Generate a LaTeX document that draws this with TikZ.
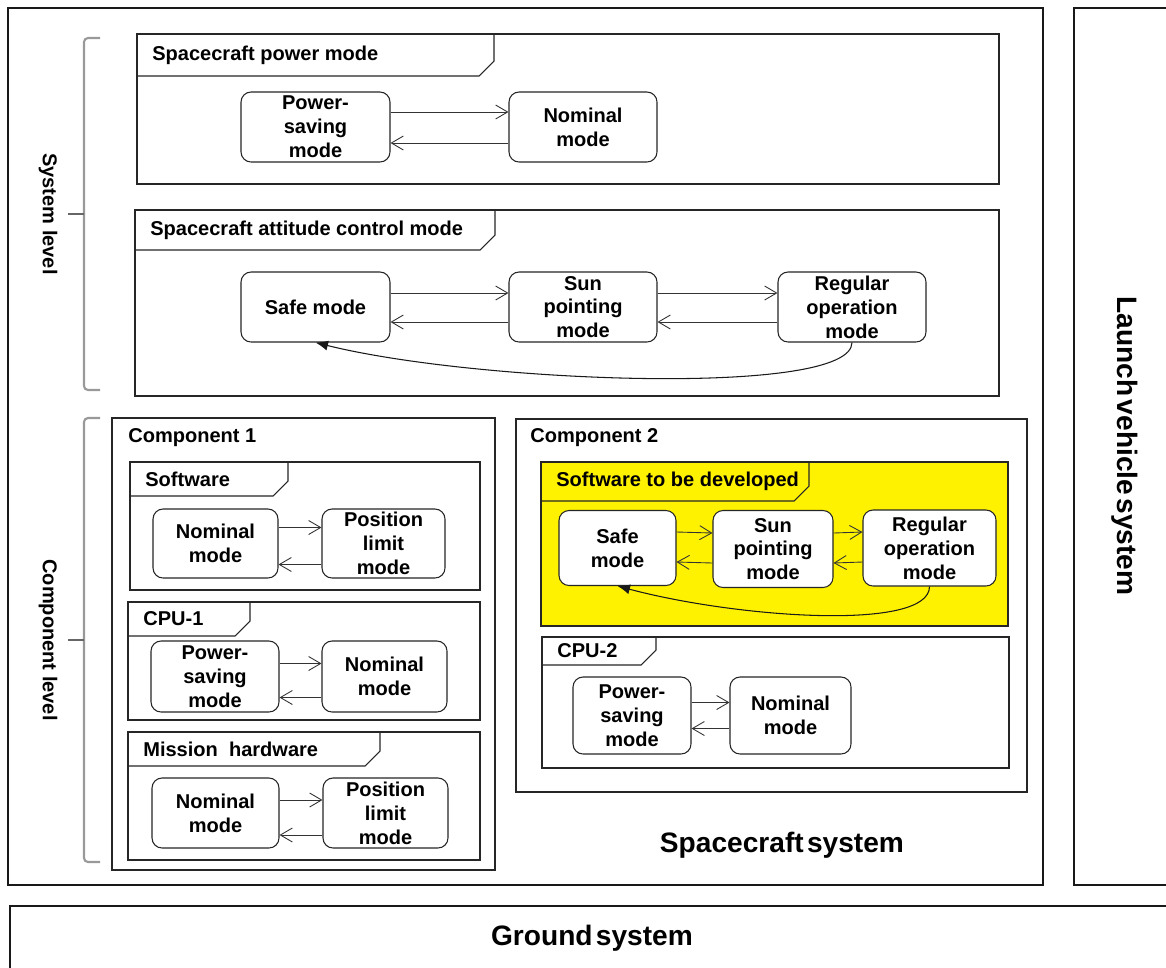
\documentclass[tikz,border=0pt]{standalone}
\usepackage{fontspec}
\setmainfont{Liberation Sans}
\usetikzlibrary{arrows.meta,calc}

% frame with a label tab: name, x1, y1, x2, y2, tab right, tab bottom, label
\newcommand{\tabframe}[8]{%
  \draw[frame] (#2,#3) rectangle (#4,#5);
  \draw[frame] (#2,#7) -- ({#6-15},#7) -- (#6,{#7-15}) -- (#6,#3);
  \node[framelabel] (#1) at ({#2+15},{(#3+#7)/2}) {#8};
}
% two opposite transitions between two modes
\newcommand{\modeswitch}[4]{%
  \draw[trans] ($(#1.east)+(0,#3)$) -- ($(#2.west)+(0,#3)$);
  \draw[trans] ($(#2.west)+(0,#4)$) -- ($(#1.east)+(0,#4)$);
}
\newcommand{\bigfont}{\bfseries\fontsize{16}{19}\selectfont\spaceskip=0.12em\relax}

\begin{document}
\begin{tikzpicture}[x=0.02cm,y=-0.02cm,
    frame/.style={draw=black!85,line width=0.6pt},
    framelabel/.style={anchor=west,inner sep=0pt,font=\bfseries\fontsize{11.4}{13.6}\selectfont},
    mode/.style={draw=black!85,fill=white,line width=0.6pt,rounded corners=0.2cm,align=center,
      inner sep=1pt,font=\bfseries\fontsize{11.4}{13.6}\selectfont},
    trans/.style={draw=black!80,line width=0.5pt,-{Straight Barb[length=0.24cm,width=0.28cm]}},
    back/.style={draw=black!90,line width=0.6pt,-{Latex[length=0.25cm,width=0.2cm]}},
    system/.style={draw=black!90,line width=1.5pt},
    level/.style={draw=black!40,line width=1.2pt,rounded corners=0.08cm}]
  \clip (0,0) rectangle (1166,967);
  \fill[white] (0,0) rectangle (1166,967);

  % systems
  \draw[system] (8,8) rectangle (1043,885);
  \draw[system] (1074,8) rectangle (1180,885);
  \draw[system] (10,906) rectangle (1180,990);
  \node[font=\bigfont] (scsys) at (782,845) {Spacecraft system};
  \node[font=\bigfont,rotate=-90] (lvsys) at (1125,446) {Launch vehicle system};
  \node[font=\bigfont] (gndsys) at (592,938) {Ground system};

  % levels
  \draw[level] (100,38) -- (84,38) -- (84,390) -- (100,390);
  \draw[level,draw=black!60] (84,214) -- (68,214);
  \draw[level] (100,418) -- (84,418) -- (84,862) -- (100,862);
  \draw[level,draw=black!60] (84,640) -- (68,640);
  \node[font=\bfseries\fontsize{11.4}{13.6}\selectfont,rotate=-90] (syslvl) at (48,214) {System level};
  \node[font=\bfseries\fontsize{11.4}{13.6}\selectfont,rotate=-90] (complvl) at (48,640) {Component level};

  % spacecraft power mode
  \tabframe{powerlbl}{137}{34}{999}{184}{494}{76}{Spacecraft power mode}
  \node[mode,minimum width=2.98cm,minimum height=1.4cm] (ps) at (315.5,127) {Power-\\saving\\mode};
  \node[mode,minimum width=2.96cm,minimum height=1.4cm] (nm) at (583,127) {Nominal\\mode};
  \modeswitch{ps}{nm}{-15}{16}

  % spacecraft attitude control mode
  \tabframe{attlbl}{135}{210}{999}{396}{495}{250}{Spacecraft attitude control mode}
  \node[mode,minimum width=2.98cm,minimum height=1.4cm] (safe) at (315.5,307) {Safe mode};
  \node[mode,minimum width=2.96cm,minimum height=1.4cm] (sun) at (583,307) {Sun\\pointing\\mode};
  \node[mode,minimum width=2.96cm,minimum height=1.4cm] (reg) at (852,307) {Regular\\operation\\mode};
  \modeswitch{safe}{sun}{-14}{15}
  \modeswitch{sun}{reg}{-14}{15}
  \draw[back] (reg.south) .. controls +(0,55) and +(160,40) .. (safe.south);

  % component 1
  \draw[frame] (112,418) rectangle (495,870);
  \node[framelabel] (comp1) at (128,438) {Component 1};

  \tabframe{swlbl}{130}{462}{480}{590}{288}{496}{Software}
  \node[mode,minimum width=2.5cm,minimum height=1.38cm] (swnom) at (215.5,543.5) {Nominal\\mode};
  \node[mode,minimum width=2.46cm,minimum height=1.38cm] (swpos) at (383.5,543.5) {Position\\limit\\mode};
  \modeswitch{swnom}{swpos}{-16}{21}

  \tabframe{cpualbl}{128}{602}{480}{720}{250}{636}{CPU-1}
  \node[mode,minimum width=2.56cm,minimum height=1.42cm] (cpuaps) at (215,676.5) {Power-\\saving\\mode};
  \node[mode,minimum width=2.5cm,minimum height=1.42cm] (cpuanom) at (384.5,676.5) {Nominal\\mode};
  \modeswitch{cpuaps}{cpuanom}{-13}{21}

  \tabframe{mhlbl}{128}{732}{480}{860}{380}{766}{Mission~ hardware}
  \node[mode,minimum width=2.54cm,minimum height=1.4cm] (mhnom) at (215.5,813) {Nominal\\mode};
  \node[mode,minimum width=2.5cm,minimum height=1.4cm] (mhpos) at (385.5,813) {Position\\limit\\mode};
  \modeswitch{mhnom}{mhpos}{-13}{22}

  % component 2
  \draw[frame] (516,419) rectangle (1027,792);
  \node[framelabel] (comp2) at (530,438) {Component 2};

  \fill[yellow] (541,462) rectangle (1008,626);
  \tabframe{devlbl}{541}{462}{1008}{626}{809}{501}{Software to be developed}
  \node[mode,minimum width=2.34cm,minimum height=1.5cm] (devsafe) at (617.5,548) {Safe\\mode};
  \node[mode,minimum width=2.4cm,minimum height=1.54cm] (devsun) at (773,549) {Sun\\pointing\\mode};
  \node[mode,minimum width=2.66cm,minimum height=1.52cm] (devreg) at (929.5,548) {Regular\\operation\\mode};
  \modeswitch{devsafe}{devsun}{-16}{14}
  \modeswitch{devsun}{devreg}{-16}{14}
  \draw[back] (devreg.south) .. controls +(0,45) and +(120,32) .. (devsafe.south);

  \tabframe{cpublbl}{542}{637}{1009}{768}{656}{665}{CPU-2}
  \node[mode,minimum width=2.36cm,minimum height=1.54cm] (cpubps) at (632,715.5) {Power-\\saving\\mode};
  \node[mode,minimum width=2.42cm,minimum height=1.54cm] (cpubnom) at (790.5,715.5) {Nominal\\mode};
  \modeswitch{cpubps}{cpubnom}{-13}{13}
\end{tikzpicture}
\end{document}
